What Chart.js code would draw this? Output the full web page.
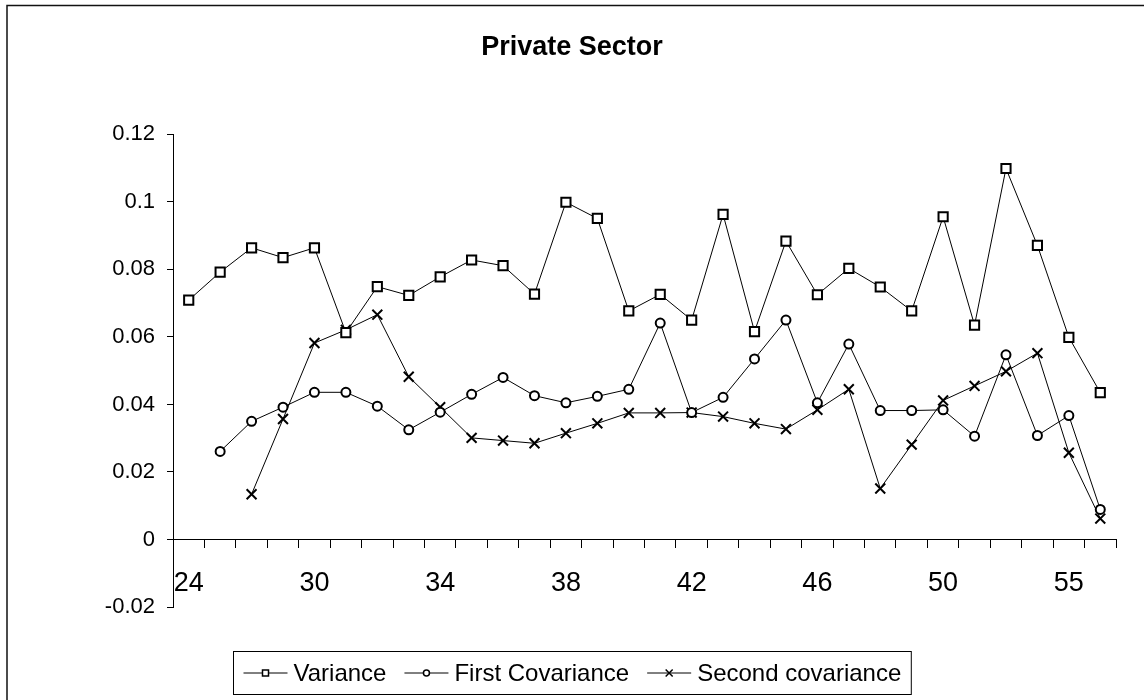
<!DOCTYPE html>
<html>
<head>
<meta charset="utf-8">
<script src="https://cdn.jsdelivr.net/npm/chart.js@4.4.1/dist/chart.umd.min.js"></script>
<style>
  html, body { margin: 0; padding: 0; background: #fff; }
  #wrap { width: 1144px; height: 700px; position: relative; }
</style>
</head>
<body>
<div id="wrap"><canvas id="chart"></canvas></div>
<script>
// x軸ラベル (4つおきに表示)
const xLabels = ["24","","","","30","","","","34","","","","38","","","","42","","","","46","","","","50","","","","55",""];

// 系列データ
const variance = [0.0709, 0.0792, 0.0864, 0.0835, 0.0864, 0.0613, 0.0749, 0.0723, 0.0778, 0.0828,
                  0.0811, 0.0727, 0.0999, 0.0951, 0.0677, 0.0726, 0.0650, 0.0963, 0.0616, 0.0884,
                  0.0725, 0.0803, 0.0748, 0.0677, 0.0956, 0.0635, 0.1099, 0.0871, 0.0599, 0.0435];
const firstCov = [null, 0.0261, 0.0350, 0.0392, 0.0436, 0.0436, 0.0395, 0.0325, 0.0377, 0.0430,
                  0.0480, 0.0426, 0.0405, 0.0424, 0.0445, 0.0641, 0.0376, 0.0421, 0.0535, 0.0650,
                  0.0405, 0.0579, 0.0382, 0.0382, 0.0384, 0.0306, 0.0547, 0.0308, 0.0367, 0.0089];
const secondCov = [null, null, 0.0134, 0.0357, 0.0582, 0.0621, 0.0666, 0.0482, 0.0392, 0.0301,
                   0.0293, 0.0285, 0.0315, 0.0344, 0.0375, 0.0375, 0.0376, 0.0364, 0.0344, 0.0327,
                   0.0384, 0.0445, 0.0151, 0.0281, 0.0412, 0.0455, 0.0498, 0.0552, 0.0257, 0.0062];

const yTicks = [-0.02, 0, 0.02, 0.04, 0.06, 0.08, 0.1, 0.12];
const seriesNames = ["Variance", "First Covariance", "Second covariance"];

const FONT = '"Liberation Sans", Arial, sans-serif';

// 枠線と背景
const frame = {
  id: 'frame',
  beforeDraw(chart) {
    const ctx = chart.ctx;
    ctx.save();
    ctx.fillStyle = '#fff';
    ctx.fillRect(0, 0, chart.width, chart.height);
    ctx.strokeStyle = '#111';
    ctx.lineWidth = 1.5;
    ctx.beginPath();
    ctx.moveTo(7, chart.height);
    ctx.lineTo(7, 5.5);
    ctx.lineTo(chart.width, 5.5);
    ctx.stroke();
    ctx.restore();
  }
};

// マーカー描画
function drawMarker(ctx, style, x, y, r) {
  ctx.beginPath();
  if (style === 'rect') {
    ctx.rect(x - r, y - r, 2 * r, 2 * r);
    ctx.fill(); ctx.stroke();
  } else if (style === 'circle') {
    ctx.arc(x, y, r, 0, Math.PI * 2);
    ctx.fill(); ctx.stroke();
  } else {
    ctx.moveTo(x - r, y - r); ctx.lineTo(x + r, y + r);
    ctx.moveTo(x + r, y - r); ctx.lineTo(x - r, y + r);
    ctx.stroke();
  }
}

// 枠付き凡例
const boxLegend = {
  id: 'boxLegend',
  afterDraw(chart) {
    const ctx = chart.ctx;
    ctx.save();
    ctx.font = '24px ' + FONT;
    const lineLen = 44, gapText = 6, gapItem = 18, padX = 10;
    const items = chart.data.datasets.map(ds => ({ ds, w: ctx.measureText(ds.label).width }));
    const total = padX * 2 + items.reduce((s, it) => s + lineLen + gapText + it.w, 0) + gapItem * (items.length - 1);
    const left = Math.round((chart.width - total) / 2) + 0.5;
    const top = 651.5, h = 43;
    ctx.strokeStyle = '#000';
    ctx.fillStyle = '#fff';
    ctx.lineWidth = 1;
    ctx.strokeRect(left, top, total, h);
    const cy = top + h / 2;
    let cx = left + padX;
    items.forEach(it => {
      ctx.strokeStyle = '#000';
      ctx.lineWidth = 1;
      ctx.beginPath();
      ctx.moveTo(cx, cy); ctx.lineTo(cx + lineLen, cy);
      ctx.stroke();
      ctx.lineWidth = 1.5;
      ctx.fillStyle = '#fff';
      drawMarker(ctx, it.ds.pointStyle, cx + lineLen / 2, cy, it.ds.pointStyle === 'crossRot' ? 3.5 : 3);
      ctx.fillStyle = '#000';
      ctx.textBaseline = 'middle';
      ctx.textAlign = 'left';
      ctx.fillText(it.ds.label, cx + lineLen + gapText, cy + 1);
      cx += lineLen + gapText + it.w + gapItem;
    });
    ctx.restore();
  }
};

const ctx = document.getElementById('chart').getContext('2d');
new Chart(ctx, {
  type: 'line',
  data: {
    labels: xLabels,
    datasets: [
      { label: seriesNames[0], data: variance, pointStyle: 'rect', pointRadius: 6.5 },
      { label: seriesNames[1], data: firstCov, pointStyle: 'circle', pointRadius: 4.5 },
      { label: seriesNames[2], data: secondCov, pointStyle: 'crossRot', pointRadius: 7 }
    ].map(ds => Object.assign(ds, {
      borderColor: '#000',
      borderWidth: 1,
      pointBorderColor: '#000',
      pointBackgroundColor: '#fff',
      pointBorderWidth: 2,
      pointHoverRadius: ds.pointRadius,
      tension: 0,
      fill: false
    }))
  },
  options: {
    responsive: true,
    maintainAspectRatio: false,
    animation: false,
    layout: { padding: { left: 28, right: 28, top: 0, bottom: 93 } },
    plugins: {
      legend: { display: false },
      tooltip: { enabled: false },
      title: {
        display: true,
        text: 'Private Sector',
        color: '#000',
        font: { family: FONT, size: 27, weight: 'bold' },
        padding: { top: 31, bottom: 71 }
      }
    },
    scales: {
      x: {
        type: 'category',
        offset: true,
        position: { y: 0 },
        afterFit: s => { s.height = 0; },
        grid: { display: true, drawOnChartArea: false, drawTicks: true, tickLength: 8, color: '#000', offset: true },
        border: { display: true, color: '#000', width: 1 },
        ticks: {
          autoSkip: false, maxRotation: 0, minRotation: 0,
          color: '#000', padding: 20,
          font: { family: FONT, size: 27 }
        }
      },
      y: {
        min: -0.02,
        max: 0.12,
        afterFit: s => { s.width = 145; },
        afterBuildTicks: s => { s.ticks = yTicks.map(v => ({ value: v })); },
        grid: { display: true, drawOnChartArea: false, drawTicks: true, tickLength: 6, color: '#000' },
        border: { display: true, color: '#000', width: 1 },
        ticks: {
          color: '#000', padding: 12,
          font: { family: FONT, size: 22 },
          callback: v => String(v)
        }
      }
    }
  },
  plugins: [frame, boxLegend]
});
</script>
</body>
</html>
